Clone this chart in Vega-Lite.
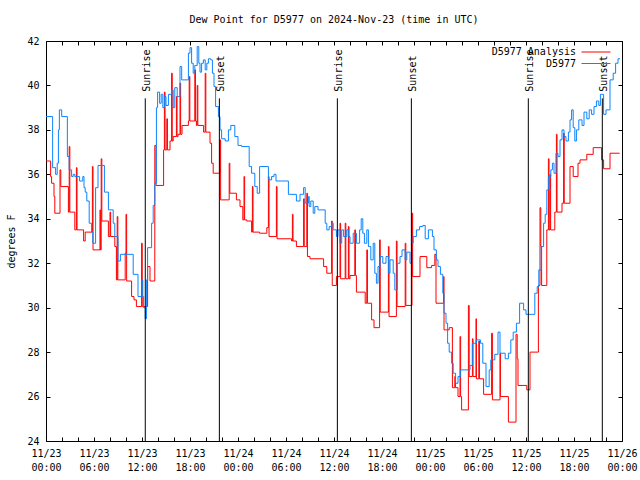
{
  "$schema": "https://vega.github.io/schema/vega-lite/v6.json",
  "width": 576,
  "height": 400,
  "autosize": {"type": "none"},
  "padding": {"left": 46, "top": 41, "right": 18, "bottom": 39},
  "background": "white",
  "title": {"text": "Dew Point for D5977 on 2024-Nov-23 (time in UTC)", "font": "DejaVu Sans Mono", "fontSize": 10, "fontWeight": "normal", "color": "black", "offset": 11},
  "config": {
    "view": {"stroke": "black", "strokeWidth": 1},
    "font": "DejaVu Sans Mono",
    "axis": {"grid": false, "domain": false, "labelFont": "DejaVu Sans Mono", "labelFontSize": 10, "labelColor": "black", "tickColor": "black", "tickWidth": 1, "tickSize": -4, "titleFont": "DejaVu Sans Mono", "titleFontSize": 10, "titleFontWeight": "normal", "titleColor": "black", "labelFlush": false, "labelOverlap": false},
    "legend": {"labelFont": "DejaVu Sans Mono", "labelFontSize": 10, "labelColor": "black"}
  },
  "datasets": {
    "analysis": [
      {"h":0,"v":36.6},{"h":0.58,"v":35.9},{"h":0.7,"v":35.6},{"h":1.0,"v":35.0},{"h":1.1,"v":34.25},{"h":1.75,"v":36.2},{"h":1.85,"v":35.45},{"h":2.8,"v":34.3},{"h":2.9,"v":37.25},{"h":2.98,"v":34.3},{"h":3.6,"v":33.5},{"h":3.8,"v":36.3},{"h":3.88,"v":33.5},{"h":4.7,"v":33.0},{"h":4.9,"v":33.4},{"h":5.8,"v":36.35},{"h":5.88,"v":32.6},{"h":6.75,"v":34.4},{"h":6.8,"v":32.6},{"h":6.9,"v":36.7},{"h":6.98,"v":33.9},{"h":7.8,"v":33.2},{"h":8.0,"v":34.3},{"h":8.08,"v":33.2},{"h":8.6,"v":32.75},{"h":8.8,"v":31.25},{"h":8.9,"v":34.1},{"h":8.98,"v":31.25},{"h":9.9,"v":32.45},{"h":10.0,"v":34.2},{"h":10.08,"v":31.2},{"h":10.7,"v":30.5},{"h":11.0,"v":30.35},{"h":11.3,"v":30.05},{"h":11.95,"v":32.9},{"h":12.03,"v":30.05},{"h":12.7,"v":31.85},{"h":13.0,"v":31.2},{"h":13.6,"v":37.3},{"h":13.75,"v":35.5},{"h":14.7,"v":37.1},{"h":14.8,"v":39.7},{"h":14.88,"v":37.1},{"h":15.1,"v":38.5},{"h":15.18,"v":37.1},{"h":15.5,"v":37.5},{"h":15.7,"v":40.55},{"h":15.78,"v":37.5},{"h":15.9,"v":37.7},{"h":16.3,"v":39.5},{"h":16.38,"v":37.7},{"h":16.5,"v":37.8},{"h":16.75,"v":40.1},{"h":16.83,"v":37.8},{"h":17.0,"v":38.2},{"h":17.8,"v":38.4},{"h":17.9,"v":40.4},{"h":17.98,"v":38.4},{"h":18.6,"v":40.7},{"h":18.68,"v":38.4},{"h":18.8,"v":38.2},{"h":18.9,"v":40.0},{"h":18.98,"v":38.2},{"h":19.7,"v":37.9},{"h":19.9,"v":40.55},{"h":19.98,"v":37.9},{"h":20.5,"v":37.4},{"h":20.7,"v":36.5},{"h":20.9,"v":36.05},{"h":21.75,"v":37.55},{"h":21.83,"v":34.85},{"h":22.9,"v":36.5},{"h":22.98,"v":35.15},{"h":23.8,"v":34.85},{"h":24.25,"v":34.55},{"h":24.6,"v":33.95},{"h":24.75,"v":35.9},{"h":24.83,"v":33.95},{"h":25.1,"v":33.9},{"h":25.7,"v":33.4},{"h":25.8,"v":35.45},{"h":25.88,"v":33.4},{"h":26.7,"v":33.35},{"h":27.6,"v":33.6},{"h":27.8,"v":35.9},{"h":27.88,"v":33.2},{"h":28.8,"v":35.45},{"h":28.88,"v":33.1},{"h":30.7,"v":33.0},{"h":30.8,"v":34.2},{"h":30.88,"v":33.0},{"h":31.3,"v":32.75},{"h":32.2,"v":34.9},{"h":32.28,"v":32.75},{"h":32.6,"v":35.15},{"h":32.68,"v":32.3},{"h":33.0,"v":32.2},{"h":34.7,"v":31.85},{"h":35.1,"v":31.55},{"h":35.7,"v":33.9},{"h":35.78,"v":31.0},{"h":36.3,"v":31.4},{"h":36.75,"v":33.8},{"h":36.83,"v":31.3},{"h":37.4,"v":33.8},{"h":37.48,"v":31.3},{"h":37.8,"v":33.65},{"h":37.88,"v":31.3},{"h":38.0,"v":31.45},{"h":38.6,"v":33.5},{"h":38.68,"v":31.45},{"h":38.8,"v":30.7},{"h":39.9,"v":30.2},{"h":40.1,"v":32.6},{"h":40.18,"v":30.2},{"h":40.7,"v":29.45},{"h":41.0,"v":29.1},{"h":41.7,"v":33.05},{"h":41.78,"v":29.8},{"h":42.8,"v":32.75},{"h":42.88,"v":29.6},{"h":43.8,"v":33.0},{"h":43.88,"v":30.05},{"h":44.9,"v":32.9},{"h":44.98,"v":30.1},{"h":45.75,"v":34.25},{"h":45.83,"v":31.4},{"h":46.75,"v":32.3},{"h":47.6,"v":31.8},{"h":48.2,"v":31.9},{"h":48.6,"v":32.4},{"h":48.75,"v":30.2},{"h":49.7,"v":31.4},{"h":49.75,"v":29.0},{"h":50.4,"v":29.1},{"h":50.8,"v":26.4},{"h":51.1,"v":26.9},{"h":51.18,"v":26.4},{"h":51.5,"v":26.0},{"h":51.75,"v":28.7},{"h":51.83,"v":26.0},{"h":51.95,"v":25.4},{"h":52.8,"v":30.1},{"h":52.9,"v":26.9},{"h":53.3,"v":28.6},{"h":53.38,"v":26.9},{"h":53.75,"v":29.5},{"h":53.8,"v":26.8},{"h":54.1,"v":28.5},{"h":54.18,"v":26.8},{"h":54.7,"v":26.1},{"h":55.7,"v":28.85},{"h":55.8,"v":25.85},{"h":56.75,"v":27.95},{"h":56.8,"v":26.0},{"h":57.8,"v":24.85},{"h":58.75,"v":28.8},{"h":58.9,"v":27.7},{"h":59.0,"v":26.5},{"h":60.1,"v":26.3},{"h":60.5,"v":28.0},{"h":61.55,"v":31.0},{"h":61.75,"v":34.5},{"h":61.85,"v":32.75},{"h":61.95,"v":31.0},{"h":62.6,"v":33.5},{"h":62.8,"v":36.7},{"h":62.88,"v":33.5},{"h":63.0,"v":36.0},{"h":63.08,"v":33.5},{"h":63.6,"v":34.3},{"h":63.8,"v":37.8},{"h":63.88,"v":34.3},{"h":64.5,"v":34.7},{"h":64.7,"v":37.85},{"h":64.78,"v":34.7},{"h":65.5,"v":36.35},{"h":65.9,"v":35.9},{"h":66.5,"v":36.5},{"h":66.75,"v":36.65},{"h":67.6,"v":36.9},{"h":68.4,"v":37.2},{"h":69.45,"v":36.65},{"h":69.7,"v":36.25},{"h":70.5,"v":36.95},{"h":71.7,"v":36.95}
    ],
    "obs": [
      {"h":0,"v":38.6},{"h":0.83,"v":36.3},{"h":1.2,"v":36.0},{"h":1.4,"v":36.5},{"h":1.55,"v":38.0},{"h":1.67,"v":38.9},{"h":1.96,"v":38.6},{"h":2.67,"v":36.8},{"h":2.9,"v":36.2},{"h":3.2,"v":35.9},{"h":3.4,"v":36.0},{"h":3.6,"v":35.9},{"h":4.2,"v":35.7},{"h":4.6,"v":35.9},{"h":4.75,"v":35.4},{"h":4.9,"v":35.2},{"h":5.1,"v":34.8},{"h":5.4,"v":33.8},{"h":5.7,"v":33.4},{"h":5.85,"v":32.9},{"h":6.2,"v":35.4},{"h":6.5,"v":36.4},{"h":7.3,"v":35.2},{"h":7.8,"v":34.4},{"h":8.4,"v":33.8},{"h":8.6,"v":33.2},{"h":9.0,"v":32.1},{"h":9.3,"v":32.4},{"h":10.9,"v":31.5},{"h":11.5,"v":30.5},{"h":12.0,"v":31.25},{"h":12.1,"v":30.5},{"h":12.2,"v":30.0},{"h":12.4,"v":29.5},{"h":12.55,"v":31.25},{"h":12.7,"v":32.7},{"h":13.2,"v":33.8},{"h":13.4,"v":34.6},{"h":13.6,"v":35.6},{"h":13.8,"v":39.0},{"h":13.95,"v":39.7},{"h":14.2,"v":39.2},{"h":14.4,"v":39.6},{"h":14.6,"v":39.0},{"h":14.8,"v":39.5},{"h":15.0,"v":39.1},{"h":15.3,"v":39.6},{"h":15.7,"v":39.8},{"h":15.9,"v":39.0},{"h":16.1,"v":39.9},{"h":16.4,"v":39.5},{"h":16.75,"v":40.85},{"h":16.96,"v":40.25},{"h":17.8,"v":41.45},{"h":18.0,"v":41.7},{"h":18.2,"v":41.0},{"h":18.4,"v":40.55},{"h":18.6,"v":40.9},{"h":18.9,"v":41.75},{"h":19.1,"v":41.0},{"h":19.25,"v":40.6},{"h":19.45,"v":41.0},{"h":19.67,"v":41.15},{"h":19.9,"v":40.7},{"h":20.1,"v":41.0},{"h":20.3,"v":41.2},{"h":20.6,"v":41.15},{"h":20.8,"v":40.55},{"h":21.0,"v":39.95},{"h":21.2,"v":39.05},{"h":21.55,"v":38.6},{"h":21.75,"v":38.0},{"h":21.95,"v":37.6},{"h":22.4,"v":37.5},{"h":22.8,"v":38.0},{"h":23.1,"v":38.2},{"h":23.6,"v":37.7},{"h":24.0,"v":37.3},{"h":24.45,"v":37.25},{"h":25.4,"v":36.35},{"h":25.7,"v":36.05},{"h":26.1,"v":35.45},{"h":26.4,"v":35.15},{"h":26.7,"v":36.35},{"h":27.8,"v":35.75},{"h":28.2,"v":35.9},{"h":28.5,"v":36.0},{"h":28.75,"v":35.7},{"h":30.3,"v":35.1},{"h":31.3,"v":34.8},{"h":31.75,"v":35.1},{"h":32.2,"v":35.4},{"h":32.4,"v":34.7},{"h":32.8,"v":35.0},{"h":32.9,"v":34.55},{"h":33.1,"v":34.8},{"h":33.4,"v":34.25},{"h":33.6,"v":34.55},{"h":34.0,"v":34.4},{"h":34.9,"v":33.8},{"h":35.1,"v":33.5},{"h":35.4,"v":33.65},{"h":35.7,"v":33.8},{"h":35.9,"v":33.5},{"h":36.3,"v":33.2},{"h":36.5,"v":33.5},{"h":36.75,"v":32.9},{"h":36.96,"v":33.5},{"h":37.2,"v":33.2},{"h":37.6,"v":33.5},{"h":37.8,"v":33.2},{"h":38.0,"v":32.9},{"h":38.4,"v":33.35},{"h":38.8,"v":32.9},{"h":39.2,"v":33.5},{"h":39.4,"v":34.0},{"h":39.6,"v":33.35},{"h":39.8,"v":32.9},{"h":40.1,"v":33.5},{"h":40.3,"v":32.75},{"h":40.6,"v":32.15},{"h":40.9,"v":32.9},{"h":41.1,"v":31.55},{"h":41.3,"v":31.1},{"h":41.5,"v":31.85},{"h":41.75,"v":32.3},{"h":42.1,"v":32.0},{"h":42.5,"v":32.3},{"h":42.8,"v":31.55},{"h":43.0,"v":32.15},{"h":43.4,"v":31.55},{"h":43.6,"v":30.8},{"h":43.9,"v":32.0},{"h":44.25,"v":32.3},{"h":44.5,"v":32.6},{"h":44.9,"v":32.15},{"h":45.1,"v":32.5},{"h":45.5,"v":32.0},{"h":45.7,"v":32.9},{"h":45.9,"v":33.2},{"h":46.3,"v":33.5},{"h":46.7,"v":33.65},{"h":47.1,"v":33.7},{"h":47.4,"v":33.1},{"h":47.8,"v":33.5},{"h":48.3,"v":33.2},{"h":48.5,"v":32.6},{"h":48.8,"v":32.15},{"h":49.0,"v":31.85},{"h":49.3,"v":31.5},{"h":49.6,"v":30.65},{"h":49.75,"v":29.75},{"h":50.0,"v":29.3},{"h":50.2,"v":28.4},{"h":50.4,"v":28.0},{"h":50.7,"v":27.5},{"h":50.9,"v":27.05},{"h":51.2,"v":26.6},{"h":51.5,"v":26.9},{"h":51.8,"v":27.2},{"h":53.0,"v":27.4},{"h":53.3,"v":28.4},{"h":53.8,"v":28.55},{"h":54.3,"v":28.4},{"h":54.6,"v":27.5},{"h":55.0,"v":26.45},{"h":55.4,"v":27.2},{"h":55.6,"v":27.65},{"h":56.1,"v":27.9},{"h":56.5,"v":28.9},{"h":56.75,"v":27.95},{"h":57.4,"v":27.7},{"h":57.8,"v":27.95},{"h":58.1,"v":28.55},{"h":58.4,"v":28.9},{"h":58.8,"v":29.3},{"h":59.2,"v":30.2},{"h":59.7,"v":29.9},{"h":60.0,"v":29.7},{"h":61.1,"v":30.65},{"h":61.4,"v":30.95},{"h":61.6,"v":31.7},{"h":61.9,"v":32.75},{"h":62.2,"v":33.8},{"h":62.4,"v":34.2},{"h":62.6,"v":35.3},{"h":62.8,"v":35.9},{"h":63.1,"v":36.2},{"h":63.3,"v":36.5},{"h":63.5,"v":36.05},{"h":63.75,"v":36.95},{"h":64.0,"v":36.8},{"h":64.25,"v":37.55},{"h":64.5,"v":38.0},{"h":64.75,"v":37.7},{"h":65.0,"v":37.5},{"h":65.3,"v":37.9},{"h":65.5,"v":38.45},{"h":65.7,"v":38.9},{"h":65.9,"v":38.1},{"h":66.1,"v":37.5},{"h":66.3,"v":38.0},{"h":66.6,"v":38.45},{"h":67.0,"v":38.2},{"h":67.25,"v":38.8},{"h":67.6,"v":38.5},{"h":67.9,"v":38.9},{"h":68.2,"v":38.7},{"h":68.5,"v":39.05},{"h":68.8,"v":39.3},{"h":69.1,"v":39.1},{"h":69.3,"v":39.6},{"h":69.7,"v":38.7},{"h":70.0,"v":38.9},{"h":70.5,"v":40.25},{"h":70.9,"v":40.55},{"h":71.2,"v":41.0},{"h":71.5,"v":41.2},{"h":71.75,"v":41.2}
    ],
    "sun": [
      {"h": 12.41, "event": "Sunrise"},
      {"h": 21.67, "event": "Sunset"},
      {"h": 36.42, "event": "Sunrise"},
      {"h": 45.67, "event": "Sunset"},
      {"h": 60.29, "event": "Sunrise"},
      {"h": 69.54, "event": "Sunset"}
    ]
  },
  "layer": [
    {
      "data": {"name": "analysis"},
      "mark": {"type": "line", "interpolate": "step-after", "strokeWidth": 1},
      "encoding": {
        "x": {"field": "h", "type": "quantitative", "scale": {"domain": [0, 72], "nice": false, "zero": false},
          "axis": {"orient": "bottom", "title": null, "values": [0,2,4,6,8,10,12,14,16,18,20,22,24,26,28,30,32,34,36,38,40,42,44,46,48,50,52,54,56,58,60,62,64,66,68,70,72],
            "labelExpr": "datum.value % 6 == 0 ? [['11/23','11/24','11/25','11/26'][floor(datum.value/24)], ['00:00','06:00','12:00','18:00'][(datum.value % 24)/6]] : ''",
            "labelPadding": 11, "labelLineHeight": 14, "labelBaseline": "top"}},
        "y": {"field": "v", "type": "quantitative", "scale": {"domain": [24, 42], "nice": false, "zero": false},
          "axis": {"orient": "left", "title": "degrees F", "values": [24,26,28,30,32,34,36,38,40,42], "labelPadding": 11, "titlePadding": 10}},
        "color": {"datum": "D5977 Analysis", "type": "nominal",
          "scale": {"domain": ["D5977 Analysis", "D5977"], "range": ["#ff0000", "#0a84ff"]},
          "legend": {"title": null, "orient": "none", "legendX": 545, "legendY": 6, "padding": 0, "symbolType": "M-4,0L4,0", "symbolSize": 52.6, "symbolStrokeWidth": 1, "labelAlign": "right", "labelOffset": -25, "rowPadding": 1.5, "labelLimit": 0}}
      }
    },
    {
      "data": {"name": "obs"},
      "mark": {"type": "line", "interpolate": "step-after", "strokeWidth": 1},
      "encoding": {
        "x": {"field": "h", "type": "quantitative", "axis": null},
        "y": {"field": "v", "type": "quantitative", "axis": null},
        "color": {"datum": "D5977", "type": "nominal"}
      }
    },
    {
      "data": {"name": "sun"},
      "mark": {"type": "rule", "color": "black", "strokeWidth": 1},
      "encoding": {
        "x": {"field": "h", "type": "quantitative",
          "axis": {"orient": "top", "title": null, "labels": false, "values": [0,2,4,6,8,10,12,14,16,18,20,22,24,26,28,30,32,34,36,38,40,42,44,46,48,50,52,54,56,58,60,62,64,66,68,70,72]}},
        "y": {"datum": 24, "type": "quantitative",
          "axis": {"orient": "right", "title": null, "labels": false, "values": [24,26,28,30,32,34,36,38,40,42]}},
        "y2": {"datum": 39.42}
      }
    },
    {
      "data": {"name": "sun"},
      "mark": {"type": "text", "angle": 270, "align": "left", "baseline": "alphabetic", "dy": 5, "font": "DejaVu Sans Mono", "fontSize": 10, "color": "black"},
      "encoding": {
        "x": {"field": "h", "type": "quantitative", "axis": null},
        "y": {"datum": 39.72, "type": "quantitative", "axis": null},
        "text": {"field": "event"}
      }
    }
  ],
  "resolve": {"axis": {"x": "independent", "y": "independent"}}
}
